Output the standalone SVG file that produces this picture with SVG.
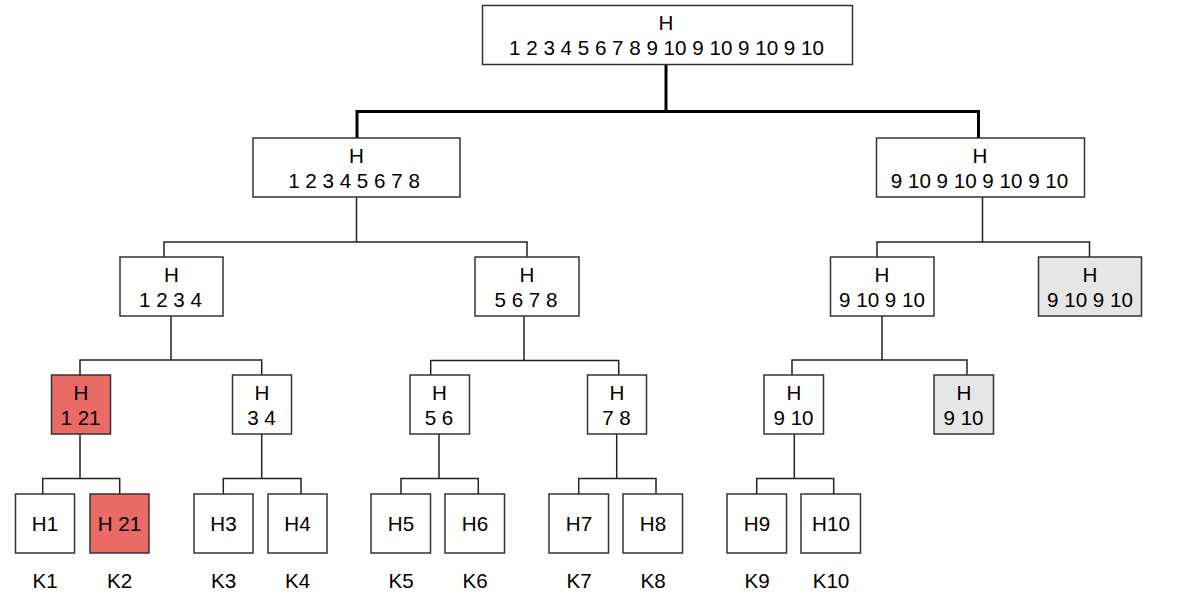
<svg xmlns="http://www.w3.org/2000/svg" width="1189" height="599" viewBox="0 0 1189 599">
<style>
rect{stroke:#333;stroke-width:1.5;fill:#fff}
rect.red{fill:#EA6A66}
rect.grey{fill:#E6E6E6}
text{font-family:"Liberation Sans",Arial,sans-serif;font-size:20.6px;fill:#000;text-anchor:middle}
.conn path{fill:none;stroke:#222;stroke-width:1.5}
.conn path.thick{stroke:#000;stroke-width:3}
</style>
<rect x="0" y="0" width="1189" height="599" style="fill:#fff;stroke:none"/>
<g class="conn" id="connectors">
<path class="thick" d="M666,64 V111.5 M357,138 V111.5 H978.5 V138"/>
<path d="M356.5,197 V242 M164,257 V242 H527 V257"/>
<path d="M982.5,197 V242 M877,257 V242 H1089.5 V257"/>
<path d="M171,316 V360 M80,375 V360 H261.7 V375"/>
<path d="M524,316 V360.5 M430.7,375 V360.5 H618.7 V375"/>
<path d="M882,316 V360 M792,375 V360 H967 V375"/>
<path d="M80,434 V478.5 M42.7,494 V478.5 H119.7 V494"/>
<path d="M261.7,434 V478.5 M223.3,494 V478.5 H301 V494"/>
<path d="M439,434 V478.5 M401,494 V478.5 H478.3 V494"/>
<path d="M616.7,434 V478.5 M578.7,494 V478.5 H656 V494"/>
<path d="M794.3,434 V478.5 M756.7,494 V478.5 H833.7 V494"/>
</g>
<g id="root"><rect x="482.5" y="5.5" width="370" height="59"/><text x="666" y="29.5">H</text><text x="666.5" y="55">1 2 3 4 5 6 7 8 9 10 9 10 9 10 9 10</text></g>
<g id="n2L"><rect x="253" y="138" width="207" height="59"/><text x="356.5" y="163">H</text><text x="354" y="187.5">1 2 3 4 5 6 7 8</text></g>
<g id="n2R"><rect x="876.5" y="138" width="208" height="59"/><text x="980" y="163">H</text><text x="979.5" y="187.5">9 10 9 10 9 10 9 10</text></g>
<g id="n3a"><rect x="120" y="257" width="103" height="59"/><text x="171.5" y="282">H</text><text x="170.5" y="306.5">1 2 3 4</text></g>
<g id="n3b"><rect x="475" y="257" width="104" height="59"/><text x="527" y="282">H</text><text x="526" y="306.5">5 6 7 8</text></g>
<g id="n3c"><rect x="830.5" y="257" width="103.5" height="59"/><text x="882" y="282">H</text><text x="882" y="306.5">9 10 9 10</text></g>
<g id="n3d"><rect class="grey" x="1038.5" y="257" width="103" height="59"/><text x="1090" y="282">H</text><text x="1090" y="306.5">9 10 9 10</text></g>
<g id="n4a"><rect class="red" x="51.5" y="375" width="59" height="59"/><text x="81" y="400">H</text><text x="80.5" y="425">1 21</text></g>
<g id="n4b"><rect x="232.5" y="375" width="59" height="59"/><text x="262" y="400">H</text><text x="261.5" y="425">3 4</text></g>
<g id="n4c"><rect x="410" y="375" width="59.5" height="59"/><text x="439.5" y="400">H</text><text x="439" y="425">5 6</text></g>
<g id="n4d"><rect x="587.5" y="375" width="59" height="59"/><text x="617" y="400">H</text><text x="616.5" y="425">7 8</text></g>
<g id="n4e"><rect x="764" y="375" width="59.5" height="59"/><text x="794" y="400">H</text><text x="793.5" y="425">9 10</text></g>
<g id="n4f"><rect class="grey" x="934" y="375" width="59.5" height="59"/><text x="964" y="400">H</text><text x="963.5" y="425">9 10</text></g>
<g id="leaf1"><rect x="15.5" y="494" width="59" height="59"/><text x="45" y="531">H1</text><text x="45" y="588">K1</text></g>
<g id="leaf2"><rect class="red" x="90" y="494" width="59" height="59"/><text x="119.5" y="531">H 21</text><text x="119.5" y="588">K2</text></g>
<g id="leaf3"><rect x="194" y="494" width="59" height="59"/><text x="223.5" y="531">H3</text><text x="223.5" y="588">K3</text></g>
<g id="leaf4"><rect x="268" y="494" width="59" height="59"/><text x="297.5" y="531">H4</text><text x="297.5" y="588">K4</text></g>
<g id="leaf5"><rect x="371" y="494" width="59.5" height="59"/><text x="401" y="531">H5</text><text x="401" y="588">K5</text></g>
<g id="leaf6"><rect x="445" y="494" width="59.5" height="59"/><text x="475" y="531">H6</text><text x="475" y="588">K6</text></g>
<g id="leaf7"><rect x="549" y="494" width="59.5" height="59"/><text x="579" y="531">H7</text><text x="579" y="588">K7</text></g>
<g id="leaf8"><rect x="623" y="494" width="59.5" height="59"/><text x="653" y="531">H8</text><text x="653" y="588">K8</text></g>
<g id="leaf9"><rect x="727" y="494" width="59.5" height="59"/><text x="757" y="531">H9</text><text x="757" y="588">K9</text></g>
<g id="leaf10"><rect x="801" y="494" width="59.5" height="59"/><text x="831" y="531">H10</text><text x="831" y="588">K10</text></g>
</svg>
